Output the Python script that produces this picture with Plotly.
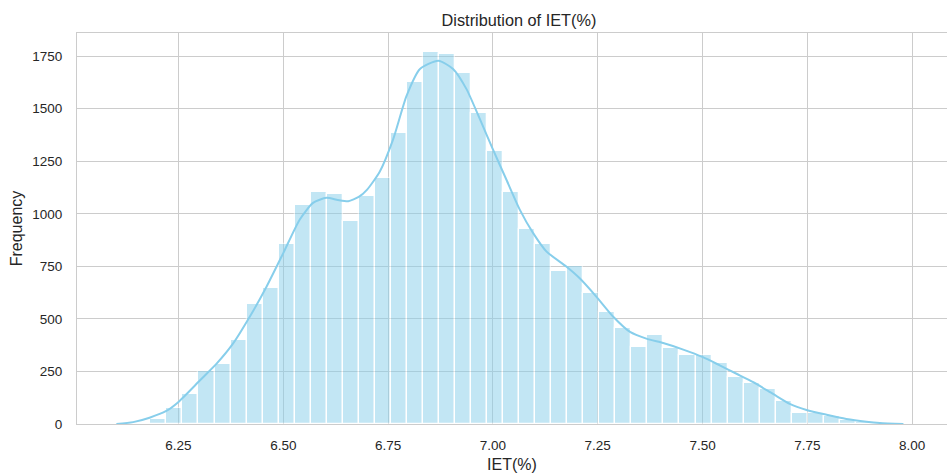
import plotly.graph_objects as go

# ---- data ----
bin_start = 6.183
bin_width = 0.03824
counts = [22, 75, 145, 252, 287, 398, 572, 648, 855, 1043,
          1104, 1096, 968, 1083, 1169, 1386, 1628, 1768, 1760, 1671,
          1481, 1298, 1104, 929, 855, 730, 750, 623, 534, 459,
          365, 422, 360, 327, 327, 288, 223, 196, 167, 110,
          54, 51, 37, 21, 11]

kde_x = [6.102, 6.142, 6.181, 6.221, 6.25, 6.301, 6.341, 6.380, 6.420, 6.460, 6.500, 6.539,
         6.571, 6.603, 6.630, 6.655, 6.680, 6.700, 6.730, 6.762, 6.794, 6.826,
         6.870, 6.905, 6.937, 6.969, 7.000, 7.032, 7.064, 7.096, 7.128, 7.175,
         7.207, 7.247, 7.287, 7.327, 7.366, 7.406, 7.454, 7.501, 7.541, 7.581,
         7.621, 7.668, 7.708, 7.748, 7.796, 7.843, 7.891, 7.923, 7.979]
kde_y = [0, 9, 30, 62, 105, 207, 287, 382, 510, 653, 813, 972,
         1052, 1076, 1066, 1060, 1080, 1115, 1200, 1354, 1561, 1689,
         1728, 1689, 1593, 1450, 1306, 1163, 1020, 908, 820, 749,
         693, 605, 510, 438, 406, 385, 354, 318, 279, 239,
         199, 143, 96, 67, 44, 24, 11, 5, 0]

x_ticks = [6.25, 6.50, 6.75, 7.00, 7.25, 7.50, 7.75, 8.00]
y_ticks = [0, 250, 500, 750, 1000, 1250, 1500, 1750]

title_text = "Distribution of IET(%)"
x_label = "IET(%)"
y_label = "Frequency"

# ---- figure ----
centers = [bin_start + (i + 0.5) * bin_width for i in range(len(counts))]

SKY = "#87ceeb"
TXT = "#262626"
GRID = "#cccccc"
FONT = "Liberation Sans, Arial, sans-serif"

fig = go.Figure()
fig.add_trace(go.Bar(
    x=centers, y=counts, width=bin_width,
    marker=dict(color=SKY, line=dict(color="white", width=1.3)),
    opacity=0.5, showlegend=False, hoverinfo="x+y",
))
fig.add_trace(go.Scatter(
    x=kde_x, y=kde_y, mode="lines",
    line=dict(color=SKY, width=2, shape="spline", smoothing=0.6),
    showlegend=False,
))

fig.update_layout(
    width=947, height=473,
    margin=dict(l=77, r=0, t=33, b=49, autoexpand=False),
    paper_bgcolor="white", plot_bgcolor="white",
    font=dict(family=FONT, color=TXT, size=13.5),
    bargap=0,
    title=dict(text=title_text, font=dict(size=16.3, color=TXT),
               xref="container", x=0.548, xanchor="center",
               yref="container", y=1 - 20 / 473, yanchor="middle"),
)
fig.update_xaxes(
    range=[6.008, 8.083], tickvals=x_ticks, tickformat=".2f",
    showgrid=True, gridcolor=GRID, gridwidth=1.2,
    showline=True, linecolor=GRID, linewidth=1.2, mirror=True,
    ticks="outside", ticklen=9, tickcolor="rgba(0,0,0,0)",
    zeroline=False, automargin=False,
    title=dict(text=x_label, font=dict(size=16), standoff=8),
)
fig.update_yaxes(
    range=[0, 1860], tickvals=y_ticks,
    showgrid=True, gridcolor=GRID, gridwidth=1.2,
    showline=True, linecolor=GRID, linewidth=1.2, mirror=False,
    ticks="outside", ticklen=11, tickcolor="rgba(0,0,0,0)",
    zeroline=False, automargin=False,
    title=dict(text=y_label, font=dict(size=16), standoff=5),
)

fig.write_html(
    "out.html",
    config={"displayModeBar": False},
    post_script="document.body.style.margin='0';document.body.style.overflow='hidden';",
)
